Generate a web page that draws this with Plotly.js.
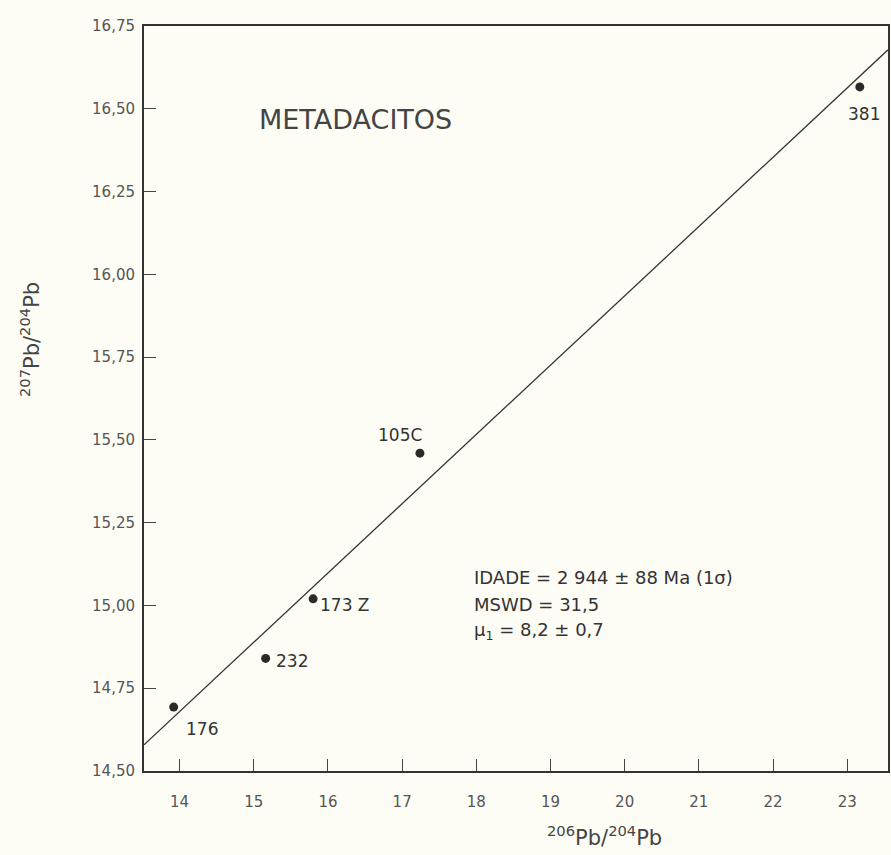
<!DOCTYPE html>
<html>
<head>
<meta charset="utf-8">
<script src="https://cdn.plot.ly/plotly-3.0.1.min.js"></script>
<style>html,body{margin:0;padding:0;background:#fdfdf6;}</style>
</head>
<body>
<div id="chart" style="width:891px;height:855px;"></div>
<script>
// Sample points: 206Pb/204Pb vs 207Pb/204Pb
const sampleNames = ["176", "232", "173 Z", "105C", "381"];
const pb206 = [13.92, 15.16, 15.80, 17.24, 23.17];
const pb207 = [14.693, 14.84, 15.02, 15.46, 16.566];

// Isochron (regression line) endpoints
const isoX = [13.52, 23.55];
const isoY = [14.579, 16.678];

const xTicks = [14, 15, 16, 17, 18, 19, 20, 21, 22, 23];
const yTicks = [14.50, 14.75, 15.00, 15.25, 15.50, 15.75, 16.00, 16.25, 16.50, 16.75];
const yTickText = ["14,50", "14,75", "15,00", "15,25", "15,50", "15,75", "16,00", "16,25", "16,50", "16,75"];

const statLines = ["IDADE = 2 944 ± 88 Ma (1σ)", "MSWD = 31,5", "μ<sub>1</sub> = 8,2 ± 0,7"];

const traces = [
  {
    x: isoX, y: isoY, mode: "lines", type: "scatter",
    line: {color: "#333", width: 1.3}, hoverinfo: "skip", showlegend: false, cliponaxis: false
  },
  {
    x: pb206, y: pb207, mode: "markers", type: "scatter",
    marker: {color: "#2a2a2a", size: 9}, showlegend: false
  }
];

const FONT = "DejaVu Sans, sans-serif";
const annotations = [];
const offsets = {
  "176": [28, 22], "232": [26, 3], "173 Z": [32, 6], "105C": [-20, -18], "381": [4, 27]
};
sampleNames.forEach((n, i) => {
  annotations.push({
    x: pb206[i], y: pb207[i], xref: "x", yref: "y", text: n, showarrow: false,
    xanchor: "center", yanchor: "middle",
    xshift: offsets[n][0], yshift: -offsets[n][1],
    font: {family: FONT, size: 17, color: "#333"}
  });
});

const ML = 144, MR = 3, MT = 26, MB = 84, W = 891, H = 855;
const plotW = W - ML - MR, plotH = H - MT - MB;
function px(xp) { return (xp - ML) / plotW; }
function py(yp) { return (H - MB - yp) / plotH; }

annotations.push({
  x: px(257), y: py(120), xref: "paper", yref: "paper", xanchor: "left", yanchor: "middle",
  text: "METADACITOS", showarrow: false,
  font: {family: FONT, size: 27, color: "#444"}
});
const statY = [577, 604, 631];
statLines.forEach((t, i) => {
  annotations.push({
    x: px(472), y: py(statY[i]), xref: "paper", yref: "paper", xanchor: "left", yanchor: "middle",
    align: "left", showarrow: false, text: t,
    font: {family: FONT, size: 18, color: "#333"}
  });
});
annotations.push({
  x: px(604), y: py(836), xref: "paper", yref: "paper", xanchor: "center", yanchor: "middle",
  showarrow: false,
  text: "<sup>206</sup>Pb/<sup>204</sup>Pb",
  font: {family: FONT, size: 21, color: "#444"}
});
annotations.push({
  x: px(30), y: py(340), xref: "paper", yref: "paper", xanchor: "center", yanchor: "middle",
  showarrow: false, textangle: -90,
  text: "<sup>207</sup>Pb/<sup>204</sup>Pb",
  font: {family: FONT, size: 21, color: "#444"}
});

const layout = {
  width: W, height: H,
  margin: {l: ML, r: MR, t: MT, b: MB},
  paper_bgcolor: "#fdfdf6", plot_bgcolor: "#fdfdf6",
  font: {family: FONT, color: "#555", size: 14},
  showlegend: false,
  xaxis: {
    range: [13.52, 23.55], tickvals: xTicks, ticktext: xTicks.map(String),
    ticks: "inside", ticklen: 12, tickcolor: "#444", tickwidth: 1,
    showline: true, mirror: true, linecolor: "#333", linewidth: 2,
    showgrid: false, zeroline: false, ticklabelstandoff: 16,
    tickfont: {size: 15, color: "#555"}
  },
  yaxis: {
    range: [14.5, 16.75], tickvals: yTicks, ticktext: yTickText,
    ticks: "inside", ticklen: 12, tickcolor: "#444", tickwidth: 1,
    showline: true, mirror: true, linecolor: "#333", linewidth: 2,
    showgrid: false, zeroline: false, ticklabelstandoff: 4,
    tickfont: {size: 15, color: "#555"}
  },
  annotations: annotations
};

Plotly.newPlot("chart", traces, layout, {displayModeBar: false, staticPlot: true});
</script>
</body>
</html>
